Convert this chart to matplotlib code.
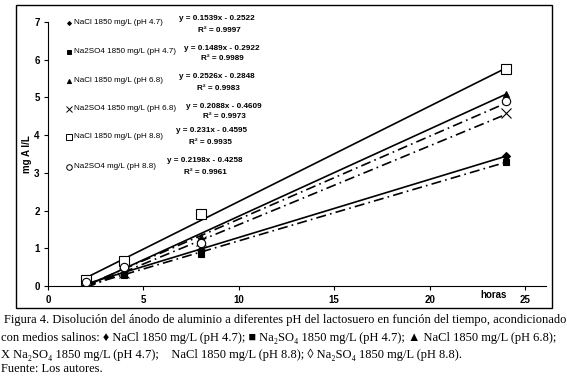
import numpy as np
import matplotlib.pyplot as plt
from matplotlib.patches import Rectangle
from matplotlib import font_manager

names = {f.name for f in font_manager.fontManager.ttflist}
narrow = "Liberation Sans Narrow" in names
plt.rcParams['font.family'] = ['Liberation Sans', 'DejaVu Sans']
lab_fam = ['Liberation Sans Narrow', 'Liberation Sans'] if narrow else ['Liberation Sans']
lab_fs = 7 if narrow else 5.8
eq_fs = 7 if narrow else 5.9

# sampling times (h) and measured mg Al/L
horas = [2, 4, 8, 24]
nacl_47 = [0.05, 0.35, 0.95, 3.45]
na2so4_47 = [0.0, 0.3, 0.85, 3.3]
nacl_68 = [0.05, 0.4, 1.3, 5.1]
na2so4_68 = [0.05, 0.35, 1.2, 4.6]
nacl_88 = [0.15, 0.65, 1.9, 5.75]
na2so4_88 = [0.1, 0.5, 1.15, 4.9]

labels = ["NaCl 1850 mg/L (pH 4.7)", "Na2SO4 1850 mg/L (pH 4.7)",
          "NaCl 1850 mg/L (pH 6.8)", "Na2SO4 1850 mg/L (pH 6.8)",
          "NaCl 1850 mg/L (pH 8.8)", "Na2SO4 mg/L (pH 8.8)"]

# trendline slope / intercept / r2 as printed
slopes = [0.1539, 0.1489, 0.2526, 0.2088, 0.231, 0.2198]
intercepts = [-0.2522, -0.2922, -0.2848, -0.4609, -0.4595, -0.4258]
r2 = [0.9997, 0.9989, 0.9983, 0.9973, 0.9935, 0.9961]

series = [nacl_47, na2so4_47, nacl_68, na2so4_68, nacl_88, na2so4_88]
markers = ["D", "s", "^", "x", "s", "o"]
filled = [True, True, True, False, False, False]
msizes = [4, 5, 5, 7, 6.5, 6]
# line styles of the trendlines as drawn (in order of the equations above)
dd = (0, (6, 2.5, 1, 2.5))
lstyles = ["-", dd, "-", dd, "-", dd]

W, H = 567, 376
fig = plt.figure(figsize=(W / 100, H / 100), dpi=100)

# outer frame around the chart
fig.patches.append(Rectangle((16 / W, 1 - 308 / H), (552 - 16) / W, (308 - 5) / H,
                             transform=fig.transFigure, fill=False, lw=1.0, ec="black"))

ax = fig.add_axes([48 / W, 1 - 286 / H, (546 - 48) / W, (286 - 22) / H])
ax.set_xlim(0, 26.1)
ax.set_ylim(0, 7)

xl = np.array([2, 24])
for m, b, ls in zip(slopes, intercepts, lstyles):
    ax.plot(xl, m * xl + b, color="black", lw=1.2, ls=ls)

for ys, mk, f, ms in zip(series, markers, filled, msizes):
    ax.plot(horas, ys, ls="none", marker=mk, ms=ms,
            mfc="black" if f else "white", mec="black", mew=0.8, zorder=3)

for s in ["top", "right"]:
    ax.spines[s].set_visible(False)
ax.set_xticks([0, 5, 10, 15, 20, 25])
ax.set_yticks(range(8))
ax.tick_params(direction="out", length=3, width=0.8, labelsize=7)
ax.tick_params(axis="x", pad=3.5)
ax.tick_params(axis="y", pad=3)
for t in ax.get_xticklabels() + ax.get_yticklabels():
    t.set_fontweight("bold")
ax.set_ylabel("mg A l/L", fontsize=7, fontweight="bold")
ax.yaxis.set_label_coords(-0.032, 0.5)
ax.text(494 / W, 1 - 295 / H, "horas", fontsize=7, fontweight="bold",
        ha="center", va="center", transform=fig.transFigure)

# legend entries placed inside plot, with equations
leg_y = [22.7, 51.7, 81, 109, 137, 167]
eq_y = [18, 48, 76, 106, 131, 161]
r2_y = [31, 59, 88, 117, 143, 173]
eq_x = [217, 222, 217, 224, 211, 205]
r2_x = [219, 222, 218, 224, 210, 205]
for i in range(6):
    fy = 1 - leg_y[i] / H
    fig.lines.append(plt.Line2D([69 / W], [fy], transform=fig.transFigure, ls="none",
                                marker=markers[i], ms=msizes[i] - 2,
                                mfc="black" if filled[i] else "white", mec="black", mew=0.7))
    fig.text(74 / W, fy, labels[i], fontsize=lab_fs, family=lab_fam, va="center")
    fig.text(eq_x[i] / W, 1 - eq_y[i] / H, f"y = {slopes[i]}x - {abs(intercepts[i])}",
             fontsize=eq_fs, family=lab_fam, fontweight="bold", ha="center", va="center")
    fig.text(r2_x[i] / W, 1 - r2_y[i] / H, f"R² = {r2[i]}",
             fontsize=eq_fs, family=lab_fam, fontweight="bold", ha="center", va="center")

cap = ["Figura 4. Disolución del ánodo de aluminio a diferentes pH del lactosuero en función del tiempo, acondicionado",
       "con medios salinos: ♦ NaCl 1850 mg/L (pH 4.7); ■ Na₂SO₄ 1850 mg/L (pH 4.7); ▲ NaCl 1850 mg/L (pH 6.8);",
       "X Na₂SO₄ 1850 mg/L (pH 4.7);    NaCl 1850 mg/L (pH 8.8); ◊ Na₂SO₄ 1850 mg/L (pH 8.8).",
       "Fuente: Los autores."]
cap_y = [320, 338, 355, 369]
cap_x = [4, 1, 1, 1]
for t, y, x in zip(cap, cap_y, cap_x):
    fig.text(x / W, 1 - y / H, t, fontsize=9.0, family=["Liberation Serif", "DejaVu Serif", "DejaVu Sans"],
             va="center")

fig.savefig("out.png", dpi=100)
